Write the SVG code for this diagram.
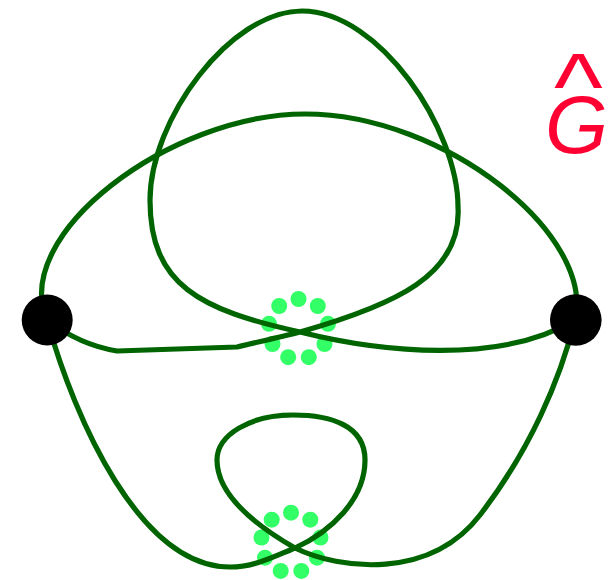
<svg xmlns="http://www.w3.org/2000/svg" width="608" height="580" viewBox="0 0 608 580">
<style>
.edge{fill:none;stroke:#006400;stroke-width:5.2;stroke-linejoin:round;stroke-linecap:round}
.dot{fill:#33ff66}
.node{fill:#000}
.lbl{fill:#ff0033;font-family:"Liberation Sans",Arial,sans-serif}
</style>
<g id="marks1">
<circle class="dot" cx="298.5" cy="299" r="8"/>
<circle class="dot" cx="317.8" cy="306" r="8"/>
<circle class="dot" cx="328" cy="323.8" r="8"/>
<circle class="dot" cx="324.5" cy="344" r="8"/>
<circle class="dot" cx="308.8" cy="357.2" r="8"/>
<circle class="dot" cx="288.2" cy="357.2" r="8"/>
<circle class="dot" cx="272.5" cy="344" r="8"/>
<circle class="dot" cx="269" cy="323.8" r="8"/>
<circle class="dot" cx="279.2" cy="306" r="8"/>
</g>
<g id="marks2">
<circle class="dot" cx="291" cy="512.7" r="8"/>
<circle class="dot" cx="310.3" cy="519.7" r="8"/>
<circle class="dot" cx="320.5" cy="537.5" r="8"/>
<circle class="dot" cx="317" cy="557.7" r="8"/>
<circle class="dot" cx="301.3" cy="570.9" r="8"/>
<circle class="dot" cx="280.7" cy="570.9" r="8"/>
<circle class="dot" cx="265" cy="557.7" r="8"/>
<circle class="dot" cx="261.5" cy="537.5" r="8"/>
<circle class="dot" cx="271.7" cy="519.7" r="8"/>
</g>
<g id="connectors">
<path class="edge" d="M 47 320 C 10 235, 170 114, 305 114 C 445 114, 595 235, 575 320"/>
<path class="edge" d="M 47 320 Q 80 345 117 351 L 237 347 C 258 342, 280 337, 300 332 C 395 305, 462 275, 458 207 C 458 130, 380 11, 302 11 C 230 11, 150 120, 150 200 C 150 285, 200 310, 300 332 C 380 352, 500 365, 575 320"/>
<path class="edge" d="M 47 320 C 75 420, 140 567, 230 567 C 255 567, 275 556, 295 548 C 330 532, 365 500, 365 460 C 365 425, 330 415, 293 415 C 250 415, 217 435, 217 460 C 217 495, 255 525, 295 548 C 340 570, 430 580, 480 515 C 530 450, 560 380, 575 320"/>
</g>
<g id="n1"><circle class="node" cx="47.2" cy="320" r="25.5"/></g>
<g id="n2"><circle class="node" cx="575.8" cy="320" r="25.8"/></g>
<g id="label">
<text class="lbl" transform="translate(578.5,119) scale(1.3,1.18)" text-anchor="middle" x="0" y="0" font-size="80">^</text>
<text class="lbl" x="545" y="153" font-size="81" font-style="italic">G</text>
</g>
</svg>
